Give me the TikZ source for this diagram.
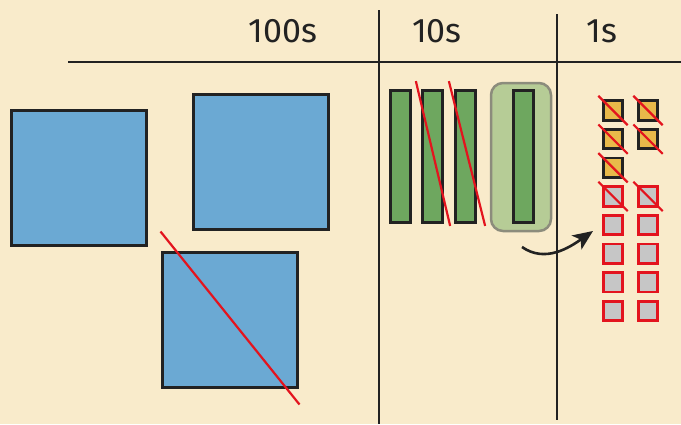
\documentclass[tikz,border=0pt]{standalone}
\usepackage{fontspec}
\setmainfont{Fira Sans}
\usetikzlibrary{arrows.meta}

\definecolor{paper}{HTML}{F9EBCB}
\definecolor{ink}{HTML}{222222}
\definecolor{hblue}{HTML}{6BA9D3}
\definecolor{tgreen}{HTML}{6EA75F}
\definecolor{lgreen}{HTML}{B6CC96}
\definecolor{lborder}{HTML}{8C8C7C}
\definecolor{oyellow}{HTML}{E8B94A}
\definecolor{ogray}{HTML}{C6C6C6}
\definecolor{cross}{HTML}{E3141E}

\begin{document}
\begin{tikzpicture}[
        x=1pt, y=-1pt,
        rule/.style={draw=ink, line width=2.2pt},
        head/.style={anchor=base, text=ink, font=\fontsize{34}{40}\selectfont, inner sep=0pt},
        hundred/.style={draw=ink, fill=hblue, line width=3pt, minimum size=135pt, inner sep=0pt},
        ten/.style={draw=ink, fill=tgreen, line width=2.8pt, minimum width=20.5pt, minimum height=132pt, inner sep=0pt},
        carry/.style={draw=lborder, fill=lgreen, line width=2.5pt, rounded corners=12pt, minimum width=60pt, minimum height=148pt},
        one/.style={draw=ink, fill=oyellow, line width=2.8pt, minimum size=19.5pt, inner sep=0pt},
        borrowed/.style={draw=cross, fill=ogray, line width=2.8pt, minimum size=19.5pt, inner sep=0pt},
        strike/.style={draw=cross, line width=2.2pt},
        trade/.style={draw=ink, line width=2.6pt, -{Stealth[length=20pt, width=17pt, inset=5pt]}},
    ]
    \fill[paper] (0,0) rectangle (681,424);
    \useasboundingbox (0,0) rectangle (681,424);

    % column rules
    \draw[rule] (68,62) -- (681,62);
    \draw[rule] (379,10) -- (379,424);
    \draw[rule] (557,14) -- (557,420);

    \node[head] (h100) at (283,42) {100s};
    \node[head] (h10) at (437,42) {10s};
    \node[head] (h1) at (602,42) {1s};

    % hundreds
    \node[hundred] (b1) at (79,177.5) {};
    \node[hundred] (b2) at (261,161.5) {};
    \node[hundred] (b3) at (229.5,319.5) {};
    \draw[strike] ([shift={(0,-19)}]b3.north west) -- ([shift={(1,16)}]b3.south east);

    % tens
    \node[carry] (c) at (521,157) {};
    \foreach \i/\x in {1/400.5, 2/432.5, 3/465.5, 4/523.5}
        \node[ten] (t\i) at (\x,156.5) {};
    \draw[strike] ([shift={(-5,-8)}]t2.north west) -- ([shift={(6,2)}]t2.south east);
    \draw[strike] ([shift={(-5,-8)}]t3.north west) -- ([shift={(8,2)}]t3.south east);

    % ones
    \foreach \r in {1,2}
        \foreach \c/\x in {a/613, b/648}
            \node[one] (o\c\r) at (\x,{110.5+28.64*(\r-1)}) {};
    \node[one] (oa3) at (613,{110.5+28.64*2}) {};
    \foreach \r in {4,...,8}
        \foreach \c/\x in {a/613, b/648}
            \node[borrowed] (o\c\r) at (\x,{110.5+28.64*(\r-1)}) {};
    \foreach \n in {oa1, ob1, oa2, ob2, oa3, oa4, ob4}
        \draw[strike, shorten <=-5pt, shorten >=-5pt] (\n.north west) -- (\n.south east);

    % carry arrow
    \coordinate (a1) at (522,247);
    \coordinate (a2) at (593,231);
    \draw[trade] (a1) to[out=-35, in=215] (a2);
\end{tikzpicture}
\end{document}
